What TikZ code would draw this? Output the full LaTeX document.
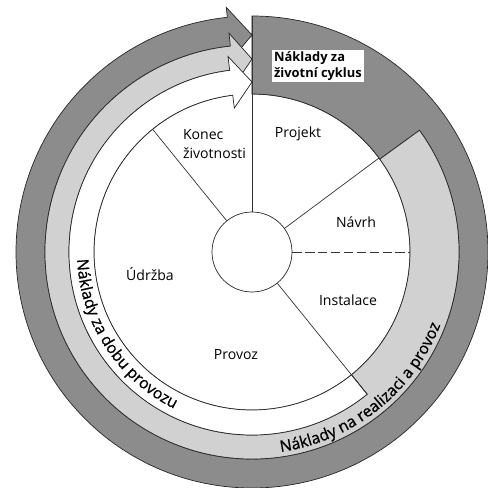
\documentclass[tikz,border=0pt]{standalone}
\usepackage{fontspec}
\setmainfont{Open Sans}
\newfontfamily\bandfamily{Open Sans}[FakeBold=0.8]
\usetikzlibrary{decorations.text}

\newcommand\phasefont{\fontsize{12}{16}\selectfont}
\newcommand\bandfont{\bandfamily\fontsize{13.5}{16}\selectfont}

\begin{document}
\begin{tikzpicture}[x=0.3mm, y=0.3mm,
    outline/.style={draw=black!85, line width=0.6pt},
    darkband/.style={outline, fill=black!45},
    lightband/.style={outline, fill=black!18},
    whiteband/.style={outline, fill=white},
    divider/.style={draw=black!80, line width=0.6pt},
    phase/.style={font=\phasefont, inner sep=1pt}]
  \useasboundingbox (-252,-236) rectangle (235,252);

  % main circle, opened where the white arrow covers it
  \draw[outline] (90:158) arc[start angle=90, end angle=-266, radius=158];

  % life cycle costs: full turn from the top, arrow back at the top
  \filldraw[darkband] (90:158) -- (90:236)
    arc[start angle=90, end angle=-264, radius=236]
    -- (-264:246) -- (-270:217) -- (-264:194) -- (-264:207)
    arc[start angle=-264, end angle=36, radius=207]
    -- (36:158) arc[start angle=36, end angle=90, radius=158] -- cycle;
  % acquisition + operating costs, from design on
  \filldraw[lightband] (36:158) -- (36:207)
    arc[start angle=36, end angle=-264, radius=207]
    -- (-264:220) -- (-270:193) -- (-264:168) -- (-264:183)
    arc[start angle=-264, end angle=-51, radius=183]
    -- (-51:158) arc[start angle=-51, end angle=36, radius=158] -- cycle;
  % operating costs, from operation on
  \filldraw[whiteband] (-51:158) -- (-51:183)
    arc[start angle=-51, end angle=-263, radius=183]
    -- (-263:197) -- (-270:170) -- (-263:145) -- (-263:158)
    arc[start angle=-263, end angle=-51, radius=158] -- cycle;

  % hub and phase borders
  \node[circle, outline, fill=white, minimum size=24mm, inner sep=0pt] (hub) at (0,0) {};
  \coordinate (endKonec) at (129:158);
  \coordinate (endProjekt) at (90:236);
  \coordinate (endNavrh) at (36.5:158);
  \coordinate (endInstalace) at (0:158);
  \coordinate (endProvoz) at (-51:183);
  \draw[divider] (hub.129) -- (endKonec);
  \draw[divider] (hub.90) -- (endProjekt);
  \draw[divider] (hub.36.5) -- (endNavrh);
  \draw[divider, dash pattern=on 8pt off 3pt] (hub.0) -- (endInstalace);
  \draw[divider] (hub.-51) -- (endProvoz);

  % phases
  \node[phase, align=left] (konec) at (-37.5,108) {Konec\\životnosti};
  \node[phase] (projekt) at (46,118) {Projekt};
  \node[phase] (navrh) at (104,30) {Návrh};
  \node[phase] (instalace) at (96,-48) {Instalace};
  \node[phase] (udrzba) at (-102,-22) {Údržba};
  \node[phase] (provoz) at (-16,-103) {Provoz};

  % band titles
  \node[font=\fontsize{11}{14}\selectfont\bfseries, align=left, fill=white,
    inner sep=1.5pt] (cyklus) at (66,186) {Náklady za\\životní cyklus};
  \path[decorate, decoration={text along path, text align=center,
    text={|\bandfont|Náklady za dobu provozu}}]
    (163:175) arc[start angle=163, end angle=263, radius=175];
  \path[decorate, decoration={text along path, text align=center,
    text={|\bandfont|Náklady na realizaci a provoz}}]
    (-111:202) arc[start angle=-111, end angle=8, radius=202];
\end{tikzpicture}
\end{document}
